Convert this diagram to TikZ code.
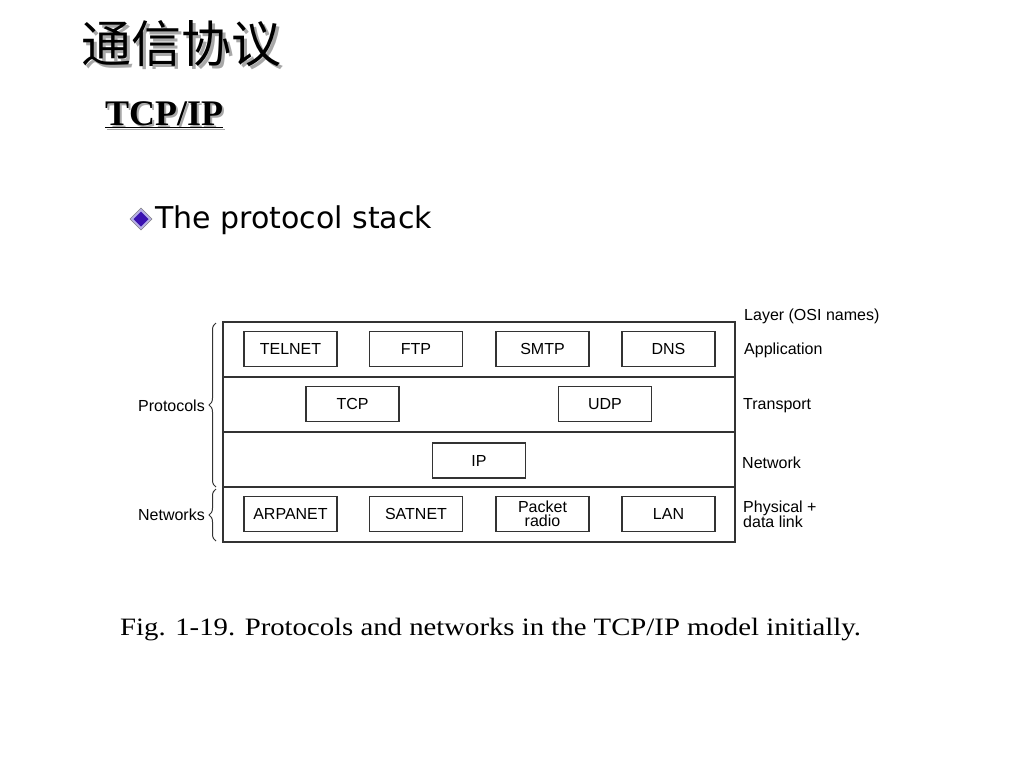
\documentclass[tikz,border=0pt]{standalone}
\usepackage{fontspec}
\setmainfont{Liberation Serif}
\newfontfamily\cjk{Noto Sans CJK SC}
\newfontfamily\diag{Liberation Sans}
\newfontfamily\tah{DejaVu Sans}
\usetikzlibrary{decorations.pathreplacing}
\definecolor{linec}{HTML}{333333}
\definecolor{bulletc}{HTML}{3A12B0}
\definecolor{bulletedge}{HTML}{B8B0E8}
\definecolor{shadowc}{HTML}{A8A8A8}
\newcommand{\shadowtext}[3]{\makebox[0pt][l]{\raisebox{-#2}{\hspace*{#1}\textcolor{shadowc}{#3}}}#3}
\tikzset{
  band/.style={draw=linec, line width=1.3pt, minimum width=512pt, minimum height=55pt, inner sep=0pt},
  proto/.style={draw=linec, line width=1.1pt, minimum width=93pt, minimum height=35pt, inner sep=0pt, font=\diag\fontsize{16}{16}\selectfont, align=center},
  lbl/.style={font=\diag\fontsize{16}{16}\selectfont, inner sep=0pt, align=left},
  bracec/.style={draw=linec, line width=1pt, decorate, decoration={brace, amplitude=7pt}},
}
\begin{document}
\begin{tikzpicture}[x=1pt,y=-1pt]
\useasboundingbox (0,0) rectangle (1024,768);
% title with shadow
\node[anchor=west, inner sep=0pt, font=\cjk\fontsize{50}{50}\selectfont] (title) at (81,45) {\shadowtext{3pt}{3pt}{通信协议}};
% TCP/IP subtitle
\node[anchor=west, inner sep=0pt, font=\bfseries\fontsize{36}{36}\selectfont] (sub) at (105,116) {\shadowtext{2pt}{2pt}{\underline{TCP/IP}}};
% bullet
\coordinate (bc) at (141,219);
\draw[fill=bulletedge, draw=gray] (130,219) -- (141,208) -- (152,219) -- (141,230) -- cycle;
\draw[fill=bulletc, draw=none] (133.5,219) -- (141,211.5) -- (148.5,219) -- (141,226.5) -- cycle;
\node[anchor=west, inner sep=0pt, font=\tah\fontsize{30}{30}\selectfont] (bullettext) at (155,220) {The protocol stack};
% bands
\node[band] (b1) at (479,349.5) {};
\node[band] (b2) at (479,404.5) {};
\node[band] (b3) at (479,459.5) {};
\node[band] (b4) at (479,514.5) {};
% boxes
\node[proto] (telnet) at (290.5,349) {TELNET};
\node[proto] (ftp) at (416,349) {FTP};
\node[proto] (smtp) at (542.5,349) {SMTP};
\node[proto] (dns) at (668.5,349) {DNS};
\node[proto] (tcp) at (352.5,404) {TCP};
\node[proto] (udp) at (605,404) {UDP};
\node[proto] (ip) at (479,460.5) {IP};
\node[proto] (arpanet) at (290.5,514) {ARPANET};
\node[proto] (satnet) at (416,514) {SATNET};
\node[proto, font=\diag\fontsize{16}{14}\selectfont] (packet) at (542.5,514) {Packet\\radio};
\node[proto] (lan) at (668.5,514) {LAN};
% right labels
\node[lbl, anchor=west] (osi) at (744,316) {Layer (OSI names)};
\node[lbl, anchor=west] (app) at (744,350) {Application};
\node[lbl, anchor=west] (trans) at (743,406) {Transport};
\node[lbl, anchor=west] (net) at (742,463) {Network};
\node[lbl, anchor=west, font=\diag\fontsize{16}{15}\selectfont] (phys) at (743,514) {Physical +\\data link};
% left labels and braces
\node[lbl, anchor=east] (protocols) at (205,406) {Protocols};
\node[lbl, anchor=east] (networks) at (205,515) {Networks};
\coordinate (p1) at (216,487);
\coordinate (p2) at (216,323);
\coordinate (n1) at (216,541);
\coordinate (n2) at (216,489);
\draw[bracec] (p1) -- (p2);
\draw[bracec] (n1) -- (n2);
% caption
\node[anchor=west, inner sep=0pt, font=\fontsize{25}{25}\selectfont] (caption) at (120,630) {\scalebox{1.15}[1]{Fig. 1-19. Protocols and networks in the TCP/IP model initially.}};
\end{tikzpicture}
\end{document}
